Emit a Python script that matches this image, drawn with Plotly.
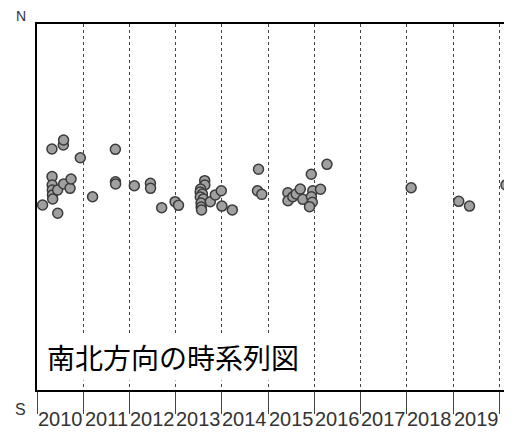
import plotly.graph_objects as go

# observation dates and north-south offset (arbitrary units, + = north)
dates = [
    "2010-02-14", "2010-04-29", "2010-04-30", "2010-05-01", "2010-05-02", "2010-05-03",
    "2010-05-05", "2010-06-13", "2010-06-14", "2010-07-28", "2010-07-30", "2010-07-31",
    "2010-09-19", "2010-09-27", "2010-12-09", "2011-03-16",
    "2011-09-12", "2011-09-13", "2011-09-14", "2012-02-09", "2012-06-15", "2012-06-16",
    "2012-09-12", "2012-12-27", "2013-01-23",
    "2013-08-18", "2013-08-19", "2013-07-17", "2013-07-13", "2013-07-31", "2013-07-14",
    "2013-08-07", "2013-07-20", "2013-07-21", "2013-07-24", "2013-10-01", "2013-11-10",
    "2013-12-27", "2014-01-01", "2014-03-24",
    "2014-10-17", "2014-10-09", "2014-11-12",
    "2015-06-06", "2015-06-07", "2015-07-15", "2015-08-11", "2015-09-12", "2015-10-02",
    "2015-12-08", "2015-12-20", "2015-12-09", "2015-12-16", "2015-11-24", "2016-02-19",
    "2016-04-10",
    "2018-02-04", "2019-02-15", "2019-05-11", "2020-02-23",
]
offsets = [
    0.11, 3.17, 1.66, 1.20, 0.93, 0.66,
    0.44, 0.93, -0.34, 3.39, 3.66, 1.26,
    1.02, 1.53, 2.69, 0.56,
    3.15, 1.38, 1.26, 1.16, 1.30, 1.02,
    -0.04, 0.29, 0.09,
    1.44, 1.20, 0.98, 0.82, 0.71, 0.55,
    0.44, 0.22, 0.00, -0.16, 0.29, 0.66,
    0.89, 0.05, -0.16,
    2.06, 0.89, 0.69,
    0.78, 0.34, 0.56, 0.71, 0.98, 0.42,
    1.79, 0.89, 0.56, 0.26, 0.02, 0.97,
    2.33,
    1.05, 0.31, 0.05, 1.20,
]

years = [str(y) for y in range(2010, 2020)]
year_mid = [f"{y}-07-02" for y in years]

fig = go.Figure()

fig.add_trace(go.Scatter(
    x=dates, y=offsets, mode="markers",
    marker=dict(size=10, color="#a0a0a0", line=dict(color="#3a3a3a", width=1.5)),
    showlegend=False, cliponaxis=False,
))

# year labels sit between the year ticks
for yr, mid in zip(years, year_mid):
    fig.add_annotation(x=mid, xref="x", y=-0.079, yref="paper", yanchor="middle",
                       text=yr, showarrow=False,
                       font=dict(family="Liberation Sans", size=20, color="#333"))

fig.add_annotation(xref="paper", yref="paper", x=0.012, y=0.09, xanchor="left", yanchor="middle",
                   text="南北方向の時系列図", showarrow=False, bgcolor="white", borderpad=3,
                   font=dict(family="Noto Sans CJK JP", size=28, color="black"))
fig.add_annotation(xref="paper", yref="paper", x=-0.034, y=1.022, xanchor="center", yanchor="middle",
                   text="N", showarrow=False, font=dict(family="Liberation Sans", size=14, color="#333"))
fig.add_annotation(xref="paper", yref="paper", x=-0.035, y=-0.052, xanchor="center", yanchor="middle",
                   text="S", showarrow=False, font=dict(family="Liberation Sans", size=16, color="#333"))

# page body has an 8px margin, so the figure is 8px smaller than the window
fig.update_layout(
    width=504, height=426,
    margin=dict(l=29, r=2, t=16, b=44),
    plot_bgcolor="white", paper_bgcolor="white",
    xaxis=dict(
        type="date", range=["2010-01-01", "2020-03-26"], automargin=False,
        tick0="2010-01-01", dtick="M12", showticklabels=False,
        ticks="outside", ticklen=22, tickcolor="#444", tickwidth=1,
        showgrid=True, gridcolor="#444", griddash="dot", gridwidth=1,
        showline=True, linecolor="black", linewidth=2, mirror=True,
        zeroline=False,
    ),
    yaxis=dict(
        range=[-10, 10], showticklabels=False, ticks="", showgrid=False, zeroline=False,
        automargin=False,
        showline=True, linecolor="black", linewidth=2, mirror=True,
    ),
)

fig.write_html("out.html")
